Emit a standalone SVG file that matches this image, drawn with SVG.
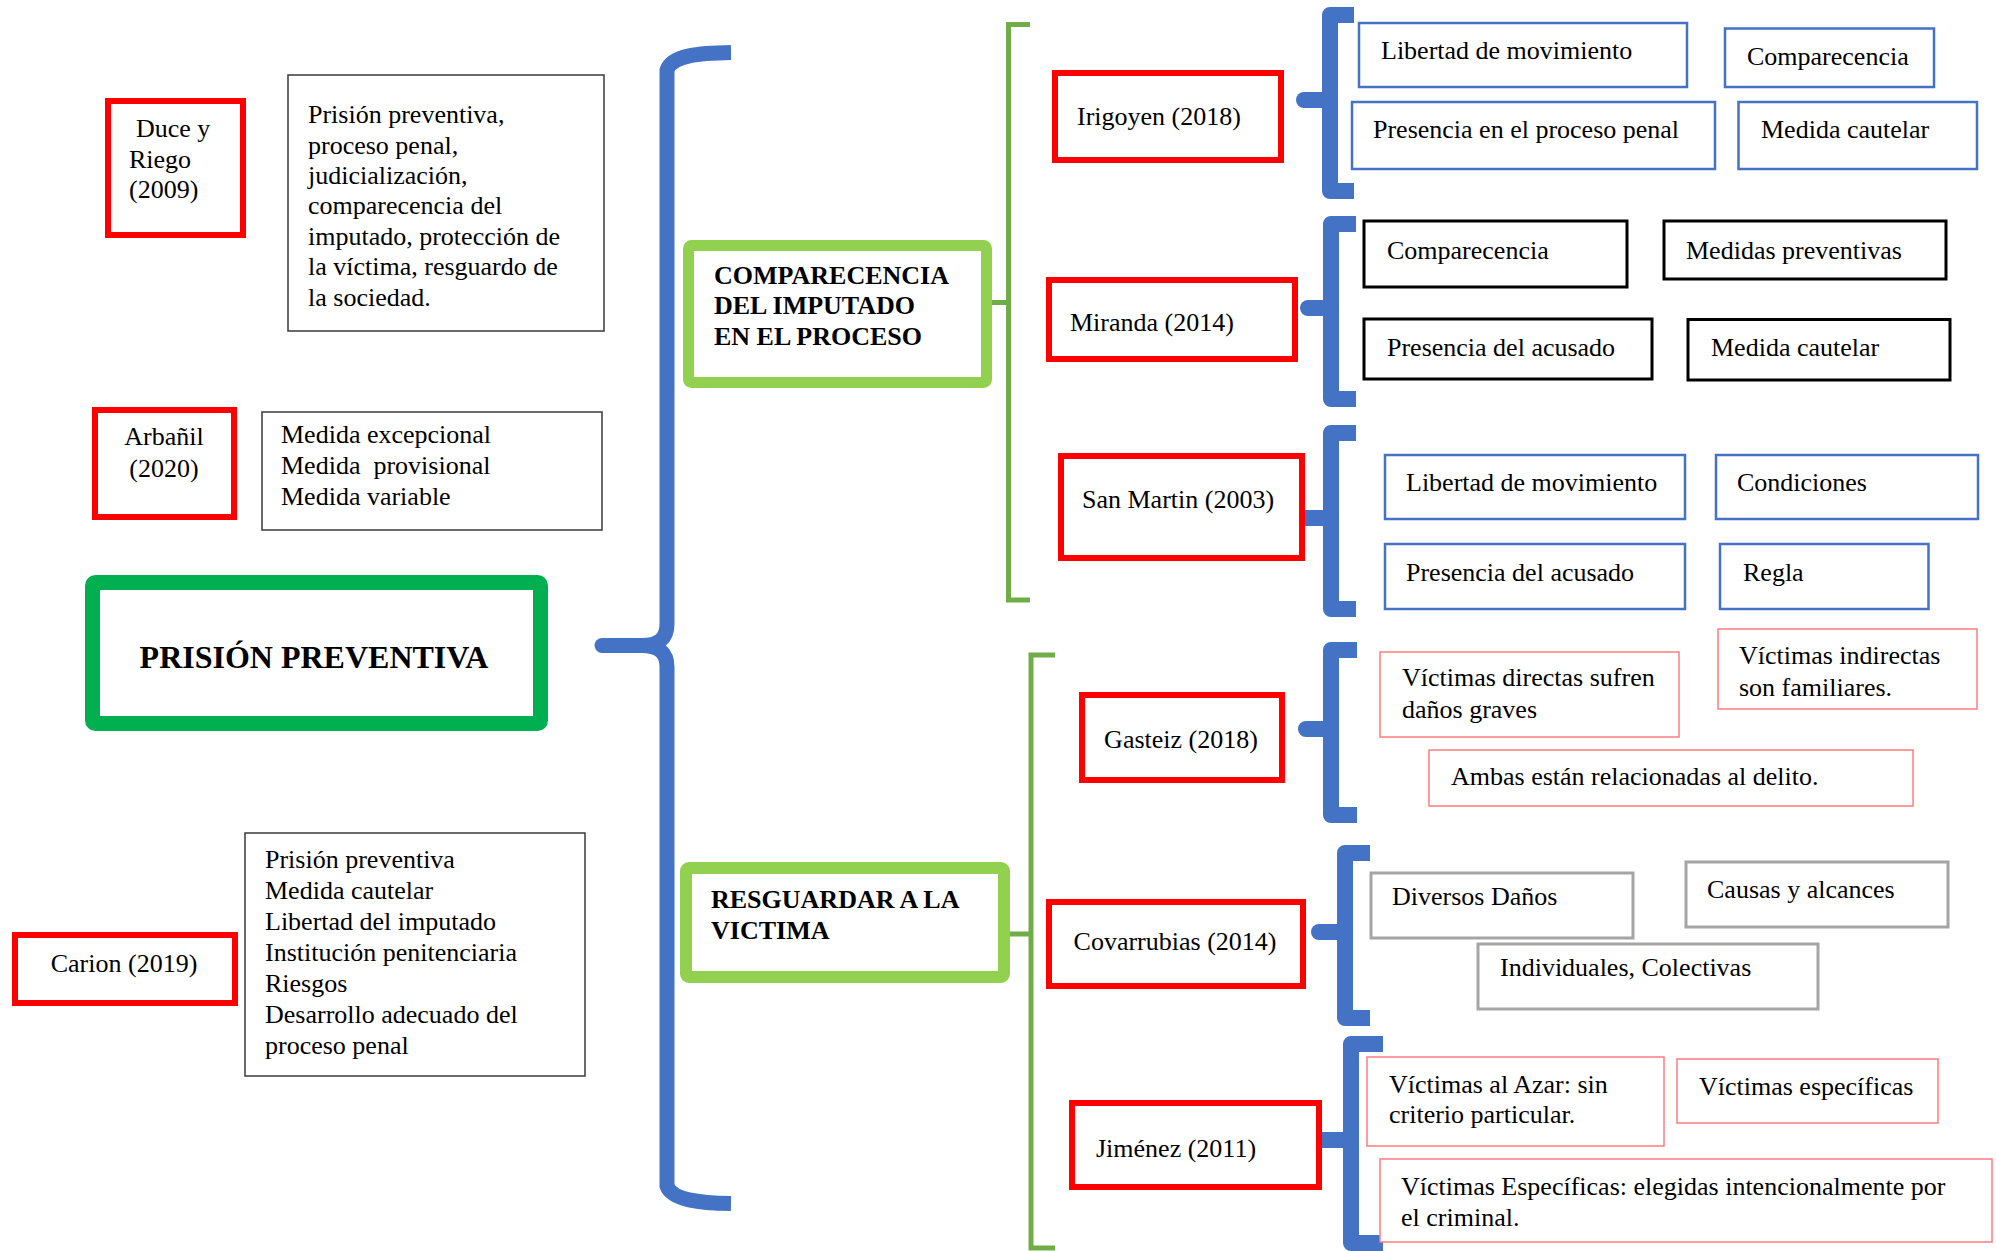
<svg xmlns="http://www.w3.org/2000/svg" width="1996" height="1251" viewBox="0 0 1996 1251">
<style>
text{font-family:"Liberation Serif","Times New Roman",serif;font-size:26px;fill:#000}
.b{font-weight:bold}
.m{text-anchor:middle}
.red{fill:#fff;stroke:#FF0000;stroke-width:6}
.gb{fill:#fff;stroke:#92D050;stroke-width:12}
.thin{fill:#fff;stroke:#3a3a3a;stroke-width:1.5}
.blue{fill:#fff;stroke:#4472C4;stroke-width:2.5}
.blk{fill:#fff;stroke:#000;stroke-width:3}
.pink{fill:#fff;stroke:#FF7C80;stroke-width:1.5}
.gray{fill:#fff;stroke:#A5A5A5;stroke-width:3}
.br{fill:none;stroke:#4472C4;stroke-width:16;stroke-linejoin:round;stroke-linecap:butt}
.nub{fill:none;stroke:#4472C4;stroke-width:16;stroke-linecap:round}
.gl{fill:none;stroke:#70AD47;stroke-width:5}
</style>
<rect width="1996" height="1251" fill="#fff"/>

<g id="connectors">
  <path class="br" style="stroke-width:15" d="M731,52.5 C700,53 672,55 667,70 L667,624 Q667,645.5 642,645.5 M642,645.5 Q667,645.5 667,667 L667,1186 C672,1200 700,1203 731,1203.5"/>
  <path class="nub" style="stroke-width:15" d="M602,645.5 L650,645.5"/>
  <path class="gl" d="M1030,24.5 L1008.5,24.5 L1008.5,600 L1030,600 M992,302.5 L1008.5,302.5"/>
  <path class="gl" d="M1055,655 L1031,655 L1031,1248 L1055,1248 M1010,934 L1031,934"/>
  <path class="br" d="M1354,15 L1330,15 L1330,191 L1354,191"/>
  <path class="nub" d="M1304,100 L1330,100"/>
  <path class="br" d="M1356,224 L1331,224 L1331,399 L1356,399"/>
  <path class="nub" d="M1308,308 L1331,308"/>
  <path class="br" d="M1356,433 L1331,433 L1331,609 L1356,609"/>
  <path class="nub" d="M1305,518 L1331,518"/>
  <path class="br" d="M1357,650 L1331,650 L1331,815 L1357,815"/>
  <path class="nub" d="M1306,729 L1331,729"/>
  <path class="br" d="M1370,853 L1345,853 L1345,1018 L1370,1018"/>
  <path class="nub" d="M1319,932 L1345,932"/>
  <path class="br" d="M1383,1044 L1351,1044 L1351,1243 L1383,1243"/>
  <path class="nub" d="M1319,1140 L1351,1140"/>
</g>

<g id="prision-preventiva">
  <rect x="92.5" y="582.5" width="448" height="141" rx="3" fill="#fff" stroke="#00B050" stroke-width="15"/>
  <text class="b m" x="314" y="668" style="font-size:32px">PRISIÓN PREVENTIVA</text>
</g>

<g id="duce">
  <rect class="red" x="108" y="101" width="135" height="134"/>
  <text x="136" y="137">Duce y</text>
  <text x="129" y="168">Riego</text>
  <text x="129" y="198">(2009)</text>
</g>
<g id="duce-desc">
  <rect class="thin" x="288" y="75" width="316" height="256"/>
  <text x="308" y="123">Prisión preventiva,</text>
  <text x="308" y="154">proceso penal,</text>
  <text x="308" y="184">judicialización,</text>
  <text x="308" y="214">comparecencia del</text>
  <text x="308" y="245">imputado, protección de</text>
  <text x="308" y="275">la víctima, resguardo de</text>
  <text x="308" y="306">la sociedad.</text>
</g>

<g id="arbanil">
  <rect class="red" x="95" y="410" width="139" height="107"/>
  <text class="m" x="164" y="445">Arbañil</text>
  <text class="m" x="164" y="477">(2020)</text>
</g>
<g id="arbanil-desc">
  <rect class="thin" x="262" y="412" width="340" height="118"/>
  <text x="281" y="443">Medida excepcional</text>
  <text x="281" y="474" xml:space="preserve">Medida  provisional</text>
  <text x="281" y="505">Medida variable</text>
</g>

<g id="carion">
  <rect class="red" x="15" y="935" width="220" height="68"/>
  <text class="m" x="124" y="972">Carion (2019)</text>
</g>
<g id="carion-desc">
  <rect class="thin" x="245" y="833" width="340" height="243"/>
  <text x="265" y="868">Prisión preventiva</text>
  <text x="265" y="899">Medida cautelar</text>
  <text x="265" y="930">Libertad del imputado</text>
  <text x="265" y="961">Institución penitenciaria</text>
  <text x="265" y="992">Riesgos</text>
  <text x="265" y="1023">Desarrollo adecuado del</text>
  <text x="265" y="1054">proceso penal</text>
</g>

<g id="comparecencia">
  <rect class="gb" x="688.5" y="245.5" width="298" height="137" rx="3" style="stroke-width:11"/>
  <text class="b" x="714" y="284">COMPARECENCIA</text>
  <text class="b" x="714" y="314">DEL IMPUTADO</text>
  <text class="b" x="714" y="345">EN EL PROCESO</text>
</g>

<g id="resguardar">
  <rect class="gb" x="686" y="868" width="318" height="109" rx="3"/>
  <text class="b" x="711" y="908">RESGUARDAR A LA</text>
  <text class="b" x="711" y="939">VICTIMA</text>
</g>

<g id="irigoyen">
  <rect class="red" x="1055" y="73" width="226" height="87"/>
  <text x="1077" y="124.5">Irigoyen (2018)</text>
</g>
<g id="irigoyen-items">
  <rect class="blue" x="1359" y="23" width="328" height="64"/>
  <text x="1381" y="59">Libertad de movimiento</text>
  <rect class="blue" x="1725" y="28.5" width="209" height="58.5"/>
  <text x="1747" y="65">Comparecencia</text>
  <rect class="blue" x="1352" y="102" width="363" height="67"/>
  <text x="1373" y="138">Presencia en el proceso penal</text>
  <rect class="blue" x="1738.5" y="102" width="238.5" height="67"/>
  <text x="1761" y="138">Medida cautelar</text>
</g>

<g id="miranda">
  <rect class="red" x="1049" y="280" width="246" height="79"/>
  <text x="1070" y="331">Miranda (2014)</text>
</g>
<g id="miranda-items">
  <rect class="blk" x="1364" y="221" width="263" height="66"/>
  <text x="1387" y="259">Comparecencia</text>
  <rect class="blk" x="1664" y="221" width="282" height="58"/>
  <text x="1686" y="259">Medidas preventivas</text>
  <rect class="blk" x="1364" y="319" width="288" height="60"/>
  <text x="1387" y="356">Presencia del acusado</text>
  <rect class="blk" x="1688" y="319.5" width="262" height="60.5"/>
  <text x="1711" y="356">Medida cautelar</text>
</g>

<g id="sanmartin">
  <rect class="red" x="1061" y="456" width="241" height="102"/>
  <text x="1082" y="508">San Martin (2003)</text>
</g>
<g id="sanmartin-items">
  <rect class="blue" x="1385" y="455" width="300" height="64"/>
  <text x="1406" y="491">Libertad de movimiento</text>
  <rect class="blue" x="1716" y="455" width="262" height="64"/>
  <text x="1737" y="491">Condiciones</text>
  <rect class="blue" x="1385" y="544" width="300" height="65"/>
  <text x="1406" y="581">Presencia del acusado</text>
  <rect class="blue" x="1720" y="544" width="208.5" height="65"/>
  <text x="1743" y="581">Regla</text>
</g>

<g id="gasteiz">
  <rect class="red" x="1082" y="695" width="200" height="85"/>
  <text class="m" x="1181" y="748">Gasteiz (2018)</text>
</g>
<g id="gasteiz-items">
  <rect class="pink" x="1380" y="652" width="299" height="85"/>
  <text x="1402" y="686">Víctimas directas sufren</text>
  <text x="1402" y="718">daños graves</text>
  <rect class="pink" x="1718" y="629" width="259" height="80"/>
  <text x="1739" y="664">Víctimas indirectas</text>
  <text x="1739" y="696">son familiares.</text>
  <rect class="pink" x="1429" y="750" width="484" height="56"/>
  <text x="1451" y="785">Ambas están relacionadas al delito.</text>
</g>

<g id="covarrubias">
  <rect class="red" x="1049" y="902" width="254" height="84"/>
  <text class="m" x="1175" y="950">Covarrubias (2014)</text>
</g>
<g id="covarrubias-items">
  <rect class="gray" x="1371" y="873" width="262" height="65"/>
  <text x="1392" y="905">Diversos Daños</text>
  <rect class="gray" x="1686" y="862" width="262" height="65"/>
  <text x="1707" y="898">Causas y alcances</text>
  <rect class="gray" x="1478" y="944" width="340" height="65"/>
  <text x="1500" y="976">Individuales, Colectivas</text>
</g>

<g id="jimenez">
  <rect class="red" x="1072" y="1103" width="247" height="84"/>
  <text x="1096" y="1157">Jiménez (2011)</text>
</g>
<g id="jimenez-items">
  <rect class="pink" x="1367" y="1057" width="297" height="89"/>
  <text x="1389" y="1093">Víctimas al Azar: sin</text>
  <text x="1389" y="1123">criterio particular.</text>
  <rect class="pink" x="1677" y="1059" width="261" height="64"/>
  <text x="1699" y="1095">Víctimas específicas</text>
  <rect class="pink" x="1380" y="1159" width="612" height="83"/>
  <text x="1401" y="1195">Víctimas Específicas: elegidas intencionalmente por</text>
  <text x="1401" y="1226">el criminal.</text>
</g>
</svg>
